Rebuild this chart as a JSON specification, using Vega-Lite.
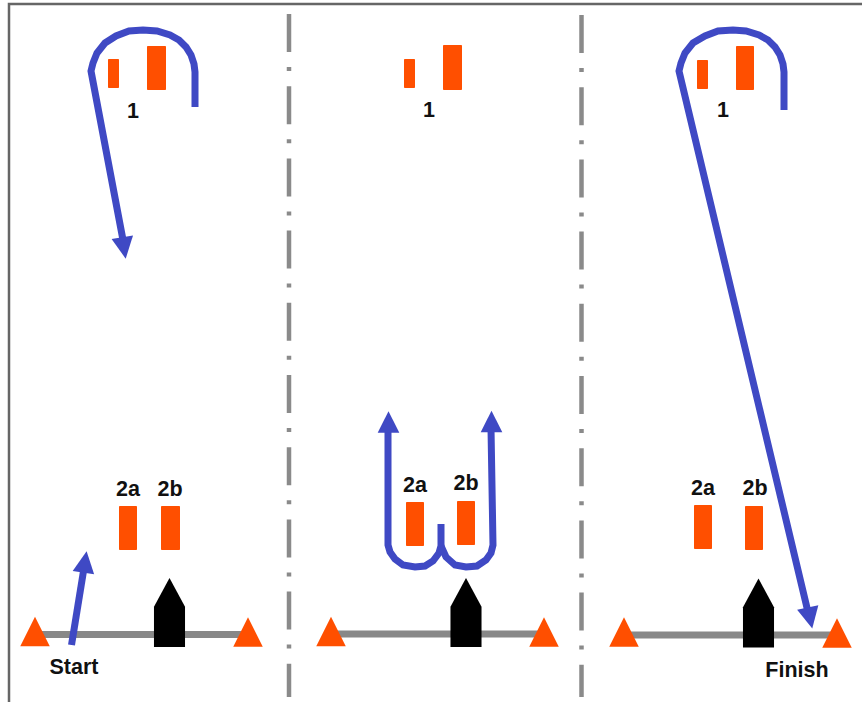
{
"$schema":"https://vega.github.io/schema/vega-lite/v6.json",
"autosize":"none",
"width":862,"height":702,"padding":0,"background":"#ffffff",
"config":{"view":{"stroke":null}},
"datasets":{
"frame":[{"s":"f","o":1,"x":9,"y":702},{"s":"f","o":2,"x":9,"y":4},{"s":"f","o":3,"x":862,"y":4}],
"dividers":[{"s":"d1","o":1,"x":289,"y":14},{"s":"d1","o":2,"x":289,"y":697},{"s":"d2","o":1,"x":581.5,"y":15},{"s":"d2","o":2,"x":581.5,"y":697}],
"lines":[{"s":"l1","o":1,"x":35,"y":634.5},{"s":"l1","o":2,"x":248,"y":634.5},{"s":"l2","o":1,"x":331,"y":634},{"s":"l2","o":2,"x":544,"y":634},{"s":"l3","o":1,"x":624,"y":635},{"s":"l3","o":2,"x":837,"y":635}],
"boats":[{"x":169.5,"y":612.5},{"x":466,"y":612.5},{"x":758.5,"y":613}],
"buoys":[{"x":35,"y":631.5},{"x":248,"y":632},{"x":331,"y":631.5},{"x":544,"y":632},{"x":624,"y":632},{"x":837,"y":633}],
"gates":[
{"g":"1a","x":108,"x2":119,"y":59,"y2":88},{"g":"1b","x":147,"x2":166,"y":46,"y2":90},
{"g":"2a","x":119,"x2":137,"y":506,"y2":550},{"g":"2b","x":161,"x2":180,"y":506,"y2":550},
{"g":"1a","x":404,"x2":415,"y":59,"y2":88},{"g":"1b","x":443,"x2":462,"y":45,"y2":90},
{"g":"2a","x":406,"x2":424,"y":502,"y2":546},{"g":"2b","x":457,"x2":475,"y":501,"y2":545},
{"g":"1a","x":697,"x2":708,"y":60,"y2":89},{"g":"1b","x":736,"x2":754,"y":46,"y2":90},
{"g":"2a","x":694,"x2":712,"y":505,"y2":549},{"g":"2b","x":745,"x2":763,"y":506,"y2":550}],
"paths":[
{"s":"a","o":1,"x":195,"y":107},{"s":"a","o":2,"x":195,"y":72},{"s":"a","o":3,"x":194,"y":64},{"s":"a","o":4,"x":191,"y":55},{"s":"a","o":5,"x":186,"y":47},{"s":"a","o":6,"x":179,"y":40},{"s":"a","o":7,"x":170,"y":35},{"s":"a","o":8,"x":157,"y":31},{"s":"a","o":9,"x":143,"y":30},{"s":"a","o":10,"x":129,"y":31},{"s":"a","o":11,"x":116,"y":36},{"s":"a","o":12,"x":105,"y":43},{"s":"a","o":13,"x":97,"y":53},{"s":"a","o":14,"x":93,"y":63},{"s":"a","o":15,"x":91,"y":71},{"s":"a","o":16,"x":123,"y":240},
{"s":"b","o":1,"x":71.5,"y":645},{"s":"b","o":2,"x":84,"y":568},
{"s":"c","o":1,"x":388,"y":428},{"s":"c","o":2,"x":388,"y":545},{"s":"c","o":3,"x":390,"y":552},{"s":"c","o":4,"x":395,"y":559},{"s":"c","o":5,"x":403,"y":565},{"s":"c","o":6,"x":415,"y":567},{"s":"c","o":7,"x":425,"y":566},{"s":"c","o":8,"x":433,"y":561},{"s":"c","o":9,"x":439,"y":553},{"s":"c","o":10,"x":441,"y":546},{"s":"c","o":11,"x":441,"y":524},
{"s":"e","o":1,"x":441,"y":546},{"s":"e","o":2,"x":446,"y":557},{"s":"e","o":3,"x":455,"y":565},{"s":"e","o":4,"x":466,"y":567},{"s":"e","o":5,"x":477,"y":566},{"s":"e","o":6,"x":486,"y":560},{"s":"e","o":7,"x":491,"y":553},{"s":"e","o":8,"x":493,"y":545},{"s":"e","o":9,"x":491,"y":428},
{"s":"h","o":1,"x":784,"y":110},{"s":"h","o":2,"x":784,"y":72},{"s":"h","o":3,"x":783,"y":64},{"s":"h","o":4,"x":780,"y":55},{"s":"h","o":5,"x":775,"y":47},{"s":"h","o":6,"x":768,"y":40},{"s":"h","o":7,"x":759,"y":35},{"s":"h","o":8,"x":746,"y":31},{"s":"h","o":9,"x":733,"y":30},{"s":"h","o":10,"x":718,"y":31},{"s":"h","o":11,"x":705,"y":36},{"s":"h","o":12,"x":693,"y":43},{"s":"h","o":13,"x":685,"y":53},{"s":"h","o":14,"x":681,"y":63},{"s":"h","o":15,"x":679,"y":71},{"s":"h","o":16,"x":808,"y":612}],
"arrowheads":[{"x":124,"y":248,"heading":171},{"x":85,"y":562,"heading":8.5},{"x":388.5,"y":422,"heading":0},{"x":491.5,"y":421.5,"heading":0},{"x":810,"y":618,"heading":168}],
"labels":[
{"t":"1","x":133,"y":112},{"t":"2a","x":128,"y":490},{"t":"2b","x":170,"y":490},{"t":"Start","x":74,"y":668},
{"t":"1","x":429,"y":111},{"t":"2a","x":415,"y":486},{"t":"2b","x":466,"y":484},
{"t":"1","x":723,"y":111},{"t":"2a","x":703,"y":489},{"t":"2b","x":755,"y":489},{"t":"Finish","x":797,"y":671}]
},
"encoding":{
"x":{"field":"x","type":"quantitative","scale":{"domain":[0,862],"nice":false,"zero":false},"axis":null},
"y":{"field":"y","type":"quantitative","scale":{"domain":[702,0],"nice":false,"zero":false},"axis":null}
},
"layer":[
{"data":{"name":"frame"},"mark":{"type":"line","color":"#666666","strokeWidth":2.5},"encoding":{"detail":{"field":"s"},"order":{"field":"o"}}},
{"data":{"name":"dividers"},"mark":{"type":"line","color":"#8a8a8a","strokeWidth":4.5,"strokeDash":[38,15,4,15.2]},"encoding":{"detail":{"field":"s"},"order":{"field":"o"}}},
{"data":{"name":"lines"},"mark":{"type":"line","color":"#888888","strokeWidth":7},"encoding":{"detail":{"field":"s"},"order":{"field":"o"}}},
{"data":{"name":"boats"},"mark":{"type":"point","filled":true,"opacity":1,"color":"#000000","size":4761,"shape":"M-0.45,1L-0.45,-0.17L0,-1L0.45,-0.17L0.45,1Z"}},
{"data":{"name":"buoys"},"mark":{"type":"point","filled":true,"opacity":1,"color":"#ff4f00","size":870,"shape":"M-1,1L0,-1L1,1Z"}},
{"data":{"name":"gates"},"mark":{"type":"rect","color":"#ff4f00","cornerRadius":1},"encoding":{"x2":{"field":"x2"},"y2":{"field":"y2"}}},
{"data":{"name":"paths"},"mark":{"type":"line","color":"#3f49c4","strokeWidth":7},"encoding":{"detail":{"field":"s"},"order":{"field":"o"}}},
{"data":{"name":"arrowheads"},"mark":{"type":"point","filled":true,"opacity":1,"color":"#3f49c4","size":470,"shape":"M-1,1L0,-1L1,1Z"},"encoding":{"angle":{"field":"heading","type":"quantitative","scale":null}}},
{"data":{"name":"labels"},"mark":{"type":"text","font":"Liberation Sans","fontWeight":"bold","fontSize":21.5,"color":"#111111","align":"center","baseline":"middle"},"encoding":{"text":{"field":"t"}}}
]
}
